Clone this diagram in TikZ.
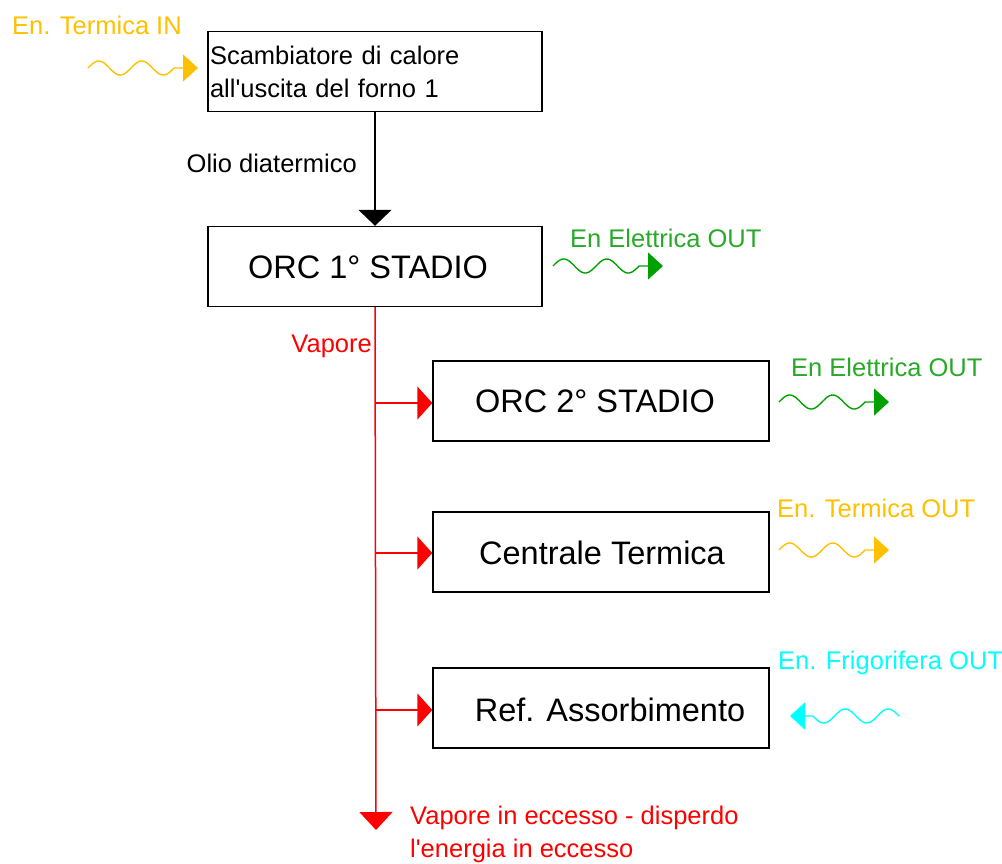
\documentclass[tikz,border=0pt]{standalone}
\usepackage{fontspec}
\setmainfont{Liberation Sans}[Ligatures=TeXOff]
\usetikzlibrary{arrows.meta}
\definecolor{ylw}{RGB}{255,192,0}
\definecolor{grn}{RGB}{0,160,0}
\definecolor{grntxt}{RGB}{40,170,40}
\definecolor{cyn}{RGB}{0,255,255}
\definecolor{rd}{RGB}{255,0,0}
\tikzset{
  box/.style={draw=black, line width=1.4pt, minimum width=334pt, minimum height=80pt, inner sep=0pt},
  lbl/.style={inner sep=0pt, font=\fontsize{25.5}{33}\selectfont},
  big/.style={inner sep=0pt, font=\fontsize{32.5}{36}\selectfont},
  wave/.style={line width=1.4pt, -{Triangle[length=15pt,width=27pt]}},
  redarr/.style={rd, line width=1.5pt, -{Triangle[length=15pt,width=33pt]}},
}
\newcommand{\mywave}[2]{% #1 style, #2 start coordinate name
  \draw[wave, #1, shift={(#2)}] plot[domain=0:86, samples=70, smooth] (\x,{-7*sin(\x*8.372)}) -- (110,0);}
\begin{document}
\begin{tikzpicture}[x=1pt,y=-1pt]
\useasboundingbox (0,0) rectangle (1002,863);
% boxes
\node[box, text width=330pt, align=left, font=\fontsize{25.5}{33}\selectfont] (b1) at (375,71.5) {Scambiatore di calore\\all'uscita del forno 1};
\node[box] (b2) at (375,266.5) {};
\node[big] (b2t) at (368,267) {ORC 1° STADIO};
\node[box, minimum width=336pt] (b3) at (601,401) {};
\node[big] (b3t) at (595,401) {ORC 2° STADIO};
\node[box, minimum width=336pt] (b4) at (601,552) {};
\node[big] (b4t) at (602,553) {Centrale Termica};
\node[box, minimum width=336pt] (b5) at (601,708) {};
\node[big] (b5t) at (610,710) {Ref. Assorbimento};
% black connector
\draw[line width=1.5pt, -{Triangle[length=16pt,width=33pt]}] (b1.south) -- (b2.north);
\node[lbl, anchor=east] (olio) at (357,163) {Olio diatermico};
% red trunk
\coordinate (t0) at (b2.south);
\coordinate (tend) at (376,830);
\coordinate (j3) at (376,403);
\coordinate (j4) at (376,553);
\coordinate (j5) at (376,710);
\draw[redarr, -{Triangle[length=18pt,width=33pt]}] (t0) -- (tend);
\draw[redarr] (j3) -- (b3.west |- j3);
\draw[redarr] (j4) -- (b4.west |- j4);
\draw[redarr] (j5) -- (b5.west |- j5);
\node[lbl, rd, anchor=east] (vap) at (372,346) {Vapore};
\node[lbl, rd, anchor=north west, align=left] (ecc) at (410,806) {Vapore in eccesso - disperdo\\l'energia in eccesso};
% energy waves
\coordinate (in0) at (88,68);
\mywave{ylw}{in0}
\node[lbl, ylw, anchor=west] (inl) at (12,25) {En. Termica IN};
\coordinate (e10) at (553,266);
\mywave{grn}{e10}
\node[lbl, grntxt, anchor=west] (e1l) at (570,238) {En Elettrica OUT};
\coordinate (e20) at (779,402);
\mywave{grn}{e20}
\node[lbl, grntxt, anchor=west] (e2l) at (791,367) {En Elettrica OUT};
\coordinate (t0w) at (779,550);
\mywave{ylw}{t0w}
\node[lbl, ylw, anchor=west] (tl) at (777,508) {En. Termica OUT};
\coordinate (f0) at (899,716);
\draw[wave, cyn, shift={(f0)}] plot[domain=0:86, samples=70, smooth] ({-\x},{-7*sin(\x*8.372)}) -- (-109,0);
\node[lbl, cyn, anchor=west] (fl) at (778,663) {En. Frigorifera OUT};
\end{tikzpicture}
\end{document}
